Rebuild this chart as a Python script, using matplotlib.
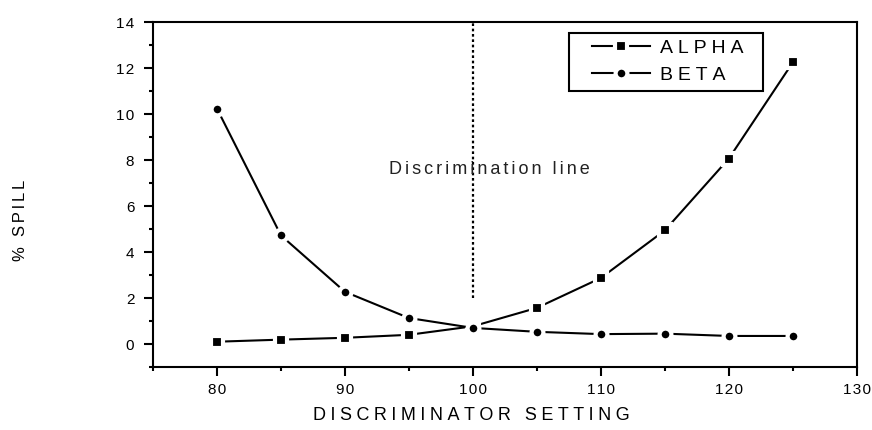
import matplotlib
matplotlib.use("Agg")
import matplotlib.pyplot as plt
from matplotlib.ticker import MultipleLocator, FuncFormatter
from matplotlib.font_manager import FontProperties
from matplotlib.patches import Rectangle

FAMILY = ['Liberation Sans', 'DejaVu Sans']
plt.rcParams['font.family'] = FAMILY

# Discriminator settings and measured spill percentages
settings = [80, 85, 90, 95, 100, 105, 110, 115, 120, 125]
alpha_spill = [0.10, 0.19, 0.27, 0.40, 0.77, 1.57, 2.87, 4.94, 8.06, 12.24]
beta_spill = [10.23, 4.72, 2.27, 1.13, 0.70, 0.53, 0.43, 0.45, 0.35, 0.35]

discrimination_x = 100
discrimination_span = [2, 14]

DPI = 100
fig = plt.figure(figsize=(8.72, 4.30), dpi=DPI)
ax = fig.add_axes([0.1755, 0.1465, 0.807, 0.8023])
renderer = fig.canvas.get_renderer()

HAIR = '\u200a'


def tracked(s, size, tracking_em):
    """Spread the letters of s apart by roughly tracking_em (in ems)."""
    fp = FontProperties(family=FAMILY, size=size)
    base = renderer.get_text_width_height_descent('HH', fp, ismath=False)[0]
    one = renderer.get_text_width_height_descent('H' + HAIR + 'H', fp, ismath=False)[0]
    hair_px = max(one - base, 0.5)
    target_px = tracking_em * size * DPI / 72.0
    n = max(1, int(round(target_px / hair_px)))
    return (HAIR * n).join(s)


common = dict(color='black', linewidth=1.5, markerfacecolor='black',
              markeredgecolor='white', markeredgewidth=3)
ax.plot(settings, alpha_spill, marker='s', markersize=8,
        label=tracked('ALPHA', 14, 0.24), **common)
ax.plot(settings, beta_spill, marker='o', markersize=8.5,
        label=tracked('BETA', 14, 0.24), **common)

ax.plot([discrimination_x, discrimination_x], discrimination_span,
        color='black', linestyle=(0, (1.2, 1.2)), linewidth=1.6)
ax.text(101.3, 7.6, tracked('Discrimination line', 13, 0.18),
        ha='center', va='center', fontsize=13, color='#222222')

ax.set_xlim(75, 130)
ax.set_ylim(-1, 14)
ax.xaxis.set_major_locator(MultipleLocator(10))
ax.xaxis.set_minor_locator(MultipleLocator(5))
ax.yaxis.set_major_locator(MultipleLocator(2))
ax.yaxis.set_minor_locator(MultipleLocator(1))

tick_fmt = FuncFormatter(lambda v, pos: tracked('%d' % round(v), 11, 0.12))
ax.xaxis.set_major_formatter(tick_fmt)
ax.yaxis.set_major_formatter(tick_fmt)

ax.tick_params(which='major', direction='out', length=6.5, width=1.5,
               labelsize=11, pad=5, colors='black')
ax.tick_params(which='minor', direction='out', length=3, width=1.5)
ax.tick_params(axis='y', which='major', pad=7)
for spine in ax.spines.values():
    spine.set_linewidth(1.5)

ax.set_xlabel(tracked('DISCRIMINATOR SETTING', 13, 0.29), fontsize=13)
ax.xaxis.set_label_coords(0.452, -0.14)
ax.xaxis.label.set_va('center')
fig.text(0.023, 0.488, tracked('% SPILL', 12, 0.2), rotation=90,
         ha='center', va='center', fontsize=12)

# Legend box drawn separately so its inner margins can be set freely
ax.add_patch(Rectangle((0.591, 0.800), 0.2755, 0.168, transform=ax.transAxes,
                       facecolor='white', edgecolor='black', linewidth=1.5,
                       zorder=4))
leg = ax.legend(loc='center left', bbox_to_anchor=(0.6236, 0.8855),
                borderaxespad=0, borderpad=0, frameon=False,
                fontsize=14, handlelength=3.0, handletextpad=0.5,
                labelspacing=0.5)
leg.set_zorder(5)

fig.savefig('out.png', dpi=DPI, facecolor='white')
